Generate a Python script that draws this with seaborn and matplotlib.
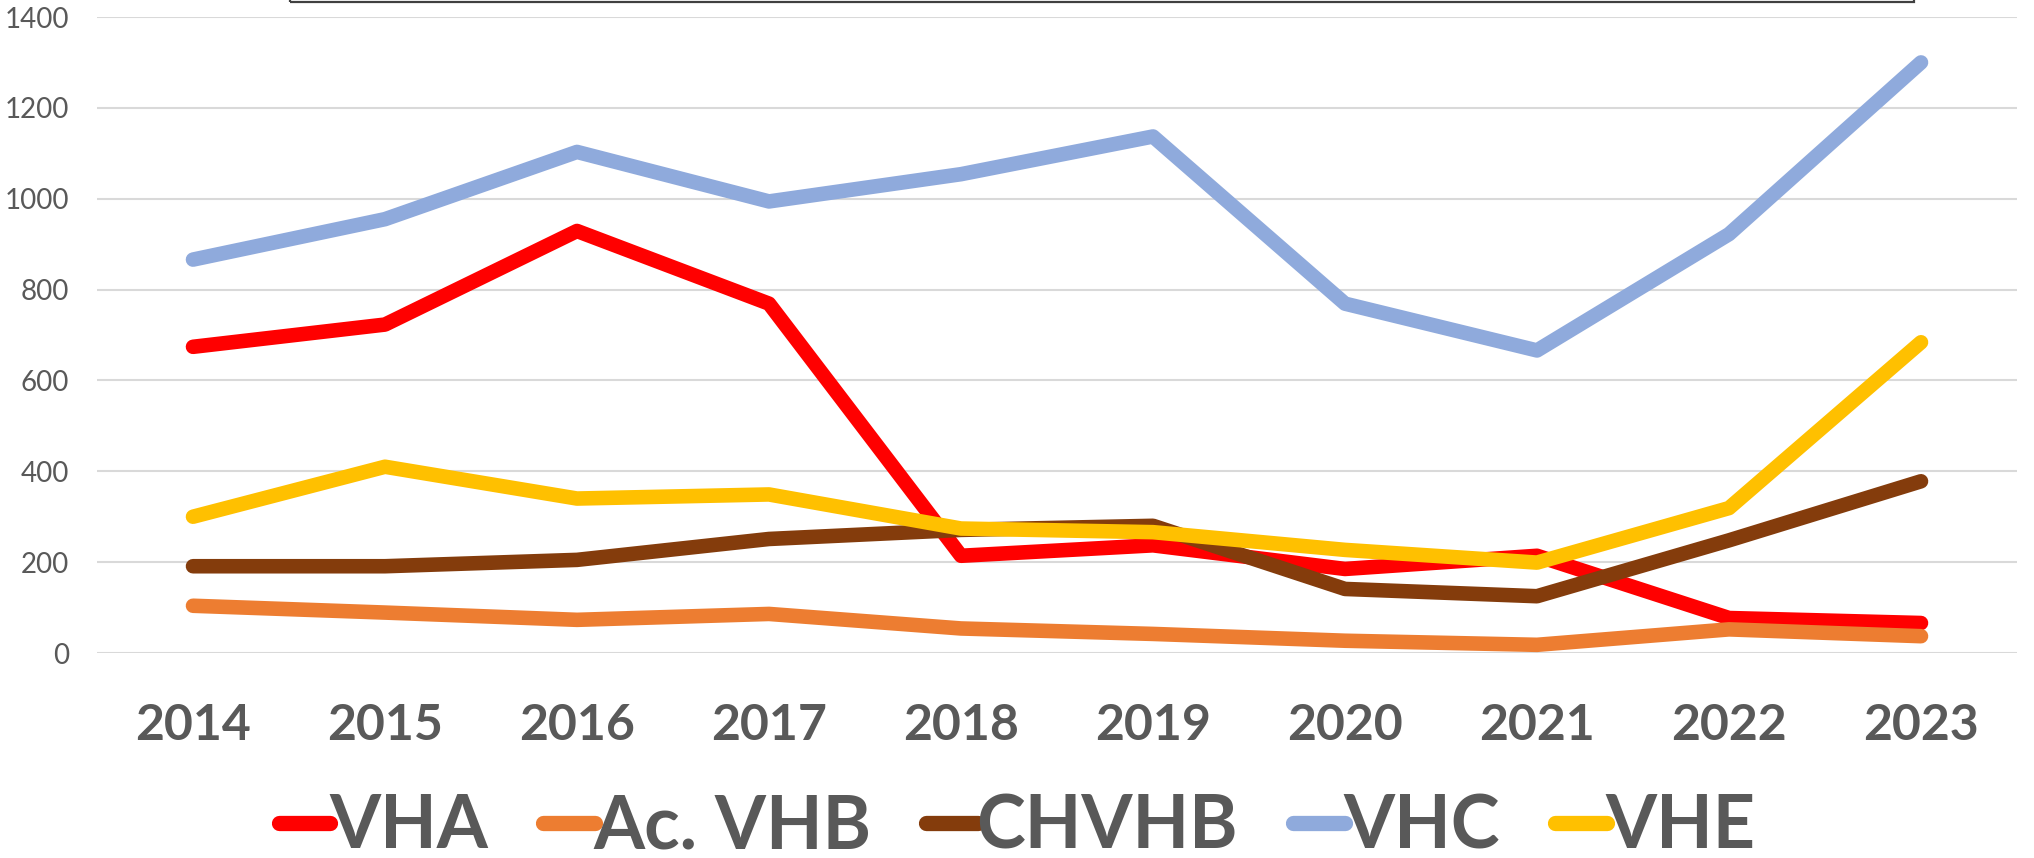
import matplotlib
matplotlib.use("Agg")
import matplotlib.pyplot as plt
from matplotlib.patches import Rectangle
import seaborn as sns
import pandas as pd

# data
years = [2014, 2015, 2016, 2017, 2018, 2019, 2020, 2021, 2022, 2023]
vha = [674, 723, 929, 769, 214, 237, 185, 214, 77, 66]
ac_vhb = [104, 89, 73, 86, 54, 42, 27, 18, 52, 37]
chvhb = [191, 191, 205, 251, 271, 280, 141, 125, 248, 378]
vhc = [866, 955, 1103, 994, 1054, 1137, 769, 666, 922, 1300]
vhe = [300, 410, 340, 349, 274, 266, 227, 199, 319, 684]

series = ["VHA", "Ac. VHB", "CHVHB", "VHC", "VHE"]
colors = ["#FF0000", "#ED7D31", "#843C0C", "#8FAADC", "#FFC000"]

frames = []
for name, vals in zip(series, [vha, ac_vhb, chvhb, vhc, vhe]):
    frames.append(pd.DataFrame({"pos": range(len(years)), "value": vals, "serie": name}))
df = pd.concat(frames, ignore_index=True)

sns.set_theme(style="white")
plt.rcParams["font.family"] = ["Lato", "DejaVu Sans"]

txt = "#595959"
W, H = 2034, 858
fig = plt.figure(figsize=(W / 100, H / 100), dpi=100)
ax = fig.add_axes([97 / W, (H - 653) / H, (2017 - 97) / W, (653 - 17) / H])

sns.lineplot(data=df, x="pos", y="value", hue="serie", hue_order=series,
             palette=dict(zip(series, colors)), linewidth=10.5, sort=False,
             legend=False, ax=ax, solid_capstyle="round")

ax.set_xlim(-0.5, 9.5)
ax.set_ylim(0, 1400)
ax.set_yticks(range(0, 1401, 200))
ax.set_xticks(range(len(years)))
ax.set_xticklabels([str(y) for y in years])
ax.grid(axis="y", color="#D9D9D9", linewidth=1.5)
ax.set_axisbelow(True)
for s in ax.spines.values():
    s.set_visible(False)
ax.set_xlabel("")
ax.set_ylabel("")
ax.tick_params(axis="y", length=0, pad=20, labelsize=20, labelcolor=txt)
ax.tick_params(axis="x", length=0, pad=36, labelsize=36, labelcolor=txt)
for lab in ax.get_xticklabels():
    lab.set_fontweight("bold")

# frame of the (cropped) title box at the top
fig.patches.append(Rectangle((290 / W, (H - 2) / H), (1914 - 290) / W, 0.2,
                             transform=fig.transFigure, fill=False,
                             edgecolor="#404040", linewidth=1.6))

handles = [plt.Line2D([], [], color=c, linewidth=11, solid_capstyle="round") for c in colors]
leg = fig.legend(handles, series, loc="center", bbox_to_anchor=(0.5, (H - 827) / H),
                 ncol=5, frameon=False, handlelength=0.7, handletextpad=-0.02,
                 columnspacing=0.75, prop={"size": 53, "weight": "bold"})
for t in leg.get_texts():
    t.set_color(txt)

fig.savefig("out.png", dpi=100)
